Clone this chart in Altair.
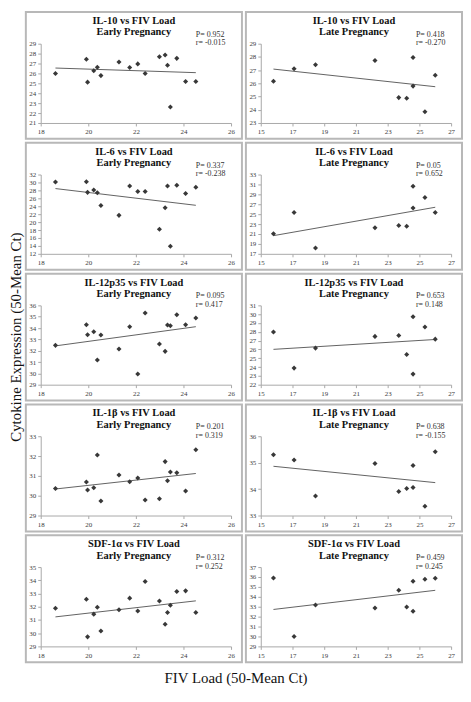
import altair as alt
import pandas as pd

SERIF = "Liberation Serif"

EARLY_X = [18.62, 19.92, 19.97, 20.23, 20.38, 20.53, 21.29, 21.74, 22.08, 22.39,
           22.99, 23.23, 23.33, 23.45, 23.72, 24.09, 24.52]
LATE_X = [15.8, 17.1, 18.45, 22.2, 23.7, 24.2, 24.6, 24.6, 25.35, 26.0]

IL10_EARLY = [26.0, 27.42, 25.12, 26.27, 26.63, 25.78, 27.16, 26.6, 26.96, 26.0,
              27.68, 27.85, 26.83, 22.62, 27.52, 25.18, 25.18]
IL10_LATE = [26.16, 27.11, 27.41, 27.73, 24.92, 24.87, 27.96, 25.79, 23.85, 26.61]

IL6_EARLY = [30.1, 30.2, 27.5, 28.1, 27.4, 24.2, 21.7, 29.1, 27.7, 27.7,
             18.2, 23.6, 29.1, 13.9, 29.3, 27.2, 28.8]
IL6_LATE = [21.05, 25.32, 18.18, 22.27, 22.7, 22.57, 30.62, 26.23, 28.37, 25.32]

IL12_EARLY = [32.47, 34.29, 33.41, 33.68, 31.18, 33.38, 32.15, 34.12, 29.94, 35.32,
              32.59, 31.94, 34.26, 34.21, 35.18, 34.29, 34.88]
IL12_LATE = [27.97, 23.88, 26.15, 27.48, 27.59, 25.43, 29.71, 23.2, 28.54, 27.17]

IL1B_EARLY = [30.36, 30.69, 30.29, 30.40, 32.05, 29.73, 31.04, 30.70, 30.89, 29.78,
              29.85, 31.72, 30.75, 31.20, 31.16, 30.24, 32.32]
IL1B_LATE = [35.3, 35.1, 33.74, 34.97, 33.91, 34.02, 34.89, 34.06, 33.35, 35.41]

SDF_EARLY = [31.89, 32.56, 29.72, 31.44, 31.96, 30.16, 31.77, 32.65, 31.67, 33.91,
             32.43, 30.68, 31.57, 32.11, 33.15, 33.2, 31.57]
SDF_LATE = [35.9, 29.99, 33.18, 32.88, 34.67, 32.98, 35.57, 32.55, 35.77, 35.87]

CYTOKINES = ["IL-10", "IL-6", "IL-12p35", "IL-1β", "SDF-1α"]
EARLY_Y = [IL10_EARLY, IL6_EARLY, IL12_EARLY, IL1B_EARLY, SDF_EARLY]
LATE_Y = [IL10_LATE, IL6_LATE, IL12_LATE, IL1B_LATE, SDF_LATE]
EARLY_P = ["0.952", "0.337", "0.095", "0.201", "0.312"]
EARLY_R = ["-0.015", "-0.238", "0.417", "0.319", "0.252"]
LATE_P = ["0.418", "0.05", "0.653", "0.638", "0.459"]
LATE_R = ["-0.270", "0.652", "0.148", "-0.155", "0.245"]
EARLY_YDOM = [[21, 29], [12, 32], [29, 36], [29, 33], [29, 35]]
EARLY_YSTEP = [1, 2, 1, 1, 1]
LATE_YDOM = [[23, 29], [17, 33], [22, 31], [33, 36], [29, 37]]
LATE_YSTEP = [1, 2, 1, 1, 1]
EARLY_XTICKS = [18, 20, 22, 24, 26]
LATE_XTICKS = [15, 17, 19, 21, 23, 25, 27]

PW, PH = 192, 80


def panel(name, stage, xs, ys, xticks, ydom, ystep, p, r):
    df = pd.DataFrame({"x": xs, "y": ys})
    yticks = list(range(ydom[0], ydom[1] + 1, ystep))
    xenc = alt.X("x:Q", scale=alt.Scale(domain=[xticks[0], xticks[-1]], nice=False, zero=False),
                 axis=alt.Axis(values=xticks, title=None))
    yenc = alt.Y("y:Q", scale=alt.Scale(domain=ydom, nice=False, zero=False),
                 axis=alt.Axis(values=yticks, title=None))
    base = alt.Chart(df)
    pts = base.mark_point(shape="diamond", filled=True, size=26, color="#383838",
                          opacity=1).encode(x=xenc, y=yenc)
    line = base.transform_regression("x", "y").mark_line(
        color="#3a3a3a", strokeWidth=0.8).encode(x=xenc, y=yenc)
    one = alt.Chart(pd.DataFrame({"k": [0]}))
    border = one.mark_rect(filled=False, stroke="#b8b8b8", strokeWidth=2).encode(
        x=alt.value(-15), x2=alt.value(PW + 11), y=alt.value(-32), y2=alt.value(PH + 16))
    title = one.mark_text(font=SERIF, fontSize=10.5, fontWeight="bold", align="center",
                          baseline="top", lineHeight=11.5, color="#111").encode(
        x=alt.value(PW / 2 - 2), y=alt.value(-28),
        text=alt.value([f"{name} vs FIV Load", f"{stage} Pregnancy"]))
    stats = one.mark_text(font=SERIF, fontSize=8, align="left", baseline="top",
                          lineHeight=8.5, color="#333").encode(
        x=alt.value(PW * 0.815), y=alt.value(-13),
        text=alt.value([f"P= {p}", f"r= {r}"]))
    return alt.layer(border, line, pts, title, stats).properties(width=PW, height=PH)


panels = []
for i, c in enumerate(CYTOKINES):
    panels.append(panel(c, "Early", EARLY_X, EARLY_Y[i], EARLY_XTICKS, EARLY_YDOM[i],
                        EARLY_YSTEP[i], EARLY_P[i], EARLY_R[i]))
    panels.append(panel(c, "Late", LATE_X, LATE_Y[i], LATE_XTICKS, LATE_YDOM[i],
                        LATE_YSTEP[i], LATE_P[i], LATE_R[i]))

grid = alt.concat(*panels, columns=2, spacing=2).properties(
    title=alt.TitleParams("Cytokine Expression (50-Mean Ct)", orient="left", anchor="middle",
                          font=SERIF, fontSize=15, fontWeight="normal", color="#111",
                          offset=1))

chart = alt.vconcat(grid, spacing=0).properties(
    title=alt.TitleParams("FIV Load (50-Mean Ct)", orient="bottom", anchor="middle",
                          font=SERIF, fontSize=15, fontWeight="normal", color="#111",
                          offset=8),
    padding=0,
).configure_axis(
    domainColor="#a8a8a8", tickColor="#a8a8a8", labelFont=SERIF, labelFontSize=7,
    labelColor="#404040", grid=False, tickSize=3, labelPadding=2, labelOverlap=False,
    labelFlush=False,
).configure_view(stroke=None)

chart.save("out.html", embed_options={"renderer": "svg", "actions": False})
